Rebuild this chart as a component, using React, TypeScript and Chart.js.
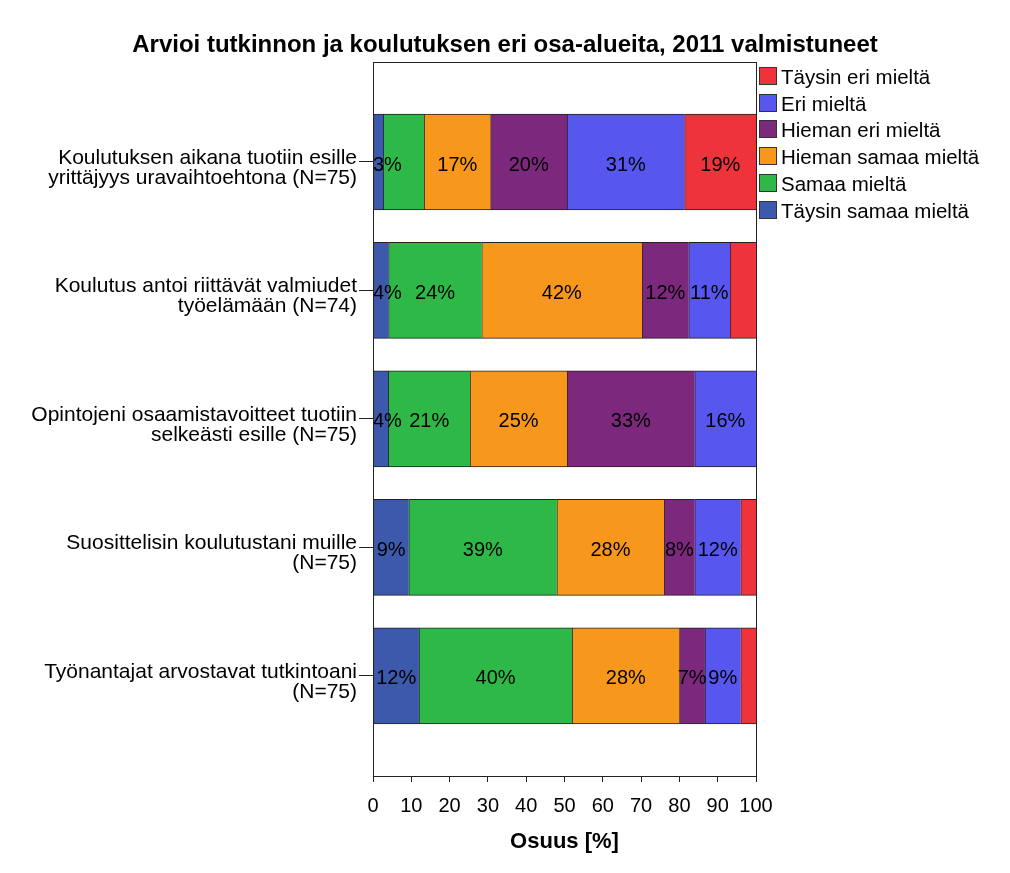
import React, { useEffect, useRef } from "react";
import { Chart, registerables } from "chart.js";

Chart.register(...registerables);

const title = "Arvioi tutkinnon ja koulutuksen eri osa-alueita, 2011 valmistuneet";
const xAxisTitle = "Osuus [%]";

const categories: string[][] = [
  ["Koulutuksen aikana tuotiin esille", "yrittäjyys uravaihtoehtona (N=75)"],
  ["Koulutus antoi riittävät valmiudet", "työelämään (N=74)"],
  ["Opintojeni osaamistavoitteet tuotiin", "selkeästi esille (N=75)"],
  ["Suosittelisin koulutustani muille", "(N=75)"],
  ["Työnantajat arvostavat tutkintoani", "(N=75)"],
];

const seriesNames = [
  "Täysin samaa mieltä",
  "Samaa mieltä",
  "Hieman samaa mieltä",
  "Hieman eri mieltä",
  "Eri mieltä",
  "Täysin eri mieltä",
];

const seriesColors = ["#3d59ab", "#2eb848", "#f7981d", "#7c287d", "#5757f0", "#ef333a"];

// percentages per category row
const taysinSamaa = [2.67, 4.05, 4.0, 9.33, 12.0];
const samaa = [10.67, 24.32, 21.33, 38.67, 40.0];
const hiemanSamaa = [17.33, 41.89, 25.33, 28.0, 28.0];
const hiemanEri = [20.0, 12.16, 33.33, 8.0, 6.67];
const eri = [30.67, 10.81, 16.0, 12.0, 9.33];
const taysinEri = [18.67, 6.76, 0.0, 4.0, 4.0];

const seriesValues = [taysinSamaa, samaa, hiemanSamaa, hiemanEri, eri, taysinEri];

const xTicks = [0, 10, 20, 30, 40, 50, 60, 70, 80, 90, 100];

const FONT = '"Liberation Sans", Arial, Helvetica, sans-serif';
const LINE = "#222222";

const labelPlugin = {
  id: "segLabels",
  afterDatasetsDraw(chart: any) {
    const { ctx, chartArea } = chart;
    ctx.save();
    ctx.font = `20px ${FONT}`;
    ctx.fillStyle = "#000";
    ctx.textBaseline = "middle";
    ctx.textAlign = "left";
    categories.forEach((_, row) => {
      let prevRight = -Infinity;
      chart.data.datasets.forEach((ds: any, di: number) => {
        const meta = chart.getDatasetMeta(di);
        const el: any = meta.data[row];
        const v = ds.data[row].x;
        if (!el || v < 0.5) return;
        const left = Math.min(el.base, el.x);
        const right = Math.max(el.base, el.x);
        const text = `${Math.round(v)}%`;
        const w = ctx.measureText(text).width;
        let lx = (left + right) / 2 - w / 2;
        if (lx < chartArea.left) lx = chartArea.left;
        if (lx + w > chartArea.right) lx = chartArea.right - w;
        if (lx < prevRight) return;
        ctx.fillText(text, lx, el.y + 3);
        prevRight = lx + w;
      });
    });
    // plot frame
    ctx.strokeStyle = LINE;
    ctx.lineWidth = 1;
    ctx.strokeRect(
      Math.round(chartArea.left) + 0.5,
      Math.round(chartArea.top) + 0.5,
      Math.round(chartArea.right) - Math.round(chartArea.left),
      Math.round(chartArea.bottom) - Math.round(chartArea.top)
    );
    // legend
    const lx0 = Math.round(chartArea.right) + 3;
    const ly0 = Math.round(chartArea.top) + 5;
    ctx.font = `20.5px ${FONT}`;
    const order = [5, 4, 3, 2, 1, 0];
    order.forEach((si, i) => {
      const y = Math.round(ly0 + i * 26.7);
      ctx.fillStyle = seriesColors[si];
      ctx.fillRect(lx0, y, 18, 18);
      ctx.strokeStyle = "#333";
      ctx.strokeRect(lx0 + 0.5, y + 0.5, 17, 17);
      ctx.fillStyle = "#000";
      ctx.fillText(seriesNames[si], lx0 + 22, y + 11);
    });
    ctx.restore();
  },
};

export default function App() {
  const ref = useRef<HTMLCanvasElement>(null);
  useEffect(() => {
    if (!ref.current) return;
    Chart.defaults.font.family = FONT;
    const chart = new Chart(ref.current, {
      type: "bar",
      data: {
        datasets: seriesNames.map((name, si) => ({
          label: name,
          data: seriesValues[si].map((v, i) => ({ x: v, y: i })),
          backgroundColor: seriesColors[si],
          borderColor: LINE,
          borderWidth: { top: 1, bottom: 1, left: 1, right: 0 },
          borderSkipped: false,
          barThickness: 96,
        })),
      },
      options: {
        indexAxis: "y",
        responsive: false,
        animation: false,
        events: [],
        layout: { padding: 0 },
        plugins: {
          legend: { display: false },
          tooltip: { enabled: false },
          title: {
            display: true,
            text: title,
            color: "#000",
            font: { size: 24, weight: "bold", family: FONT },
            padding: { top: 31, bottom: 2 },
          },
        },
        scales: {
          x: {
            type: "linear",
            stacked: true,
            min: 0,
            max: 100,
            offset: false,
            afterBuildTicks: (s: any) => {
              s.ticks = xTicks.map((v) => ({ value: v }));
            },
            afterFit: (s: any) => {
              s.height = 97;
            },
            ticks: {
              color: "#000",
              font: { size: 20 },
              padding: 12,
              maxRotation: 0,
              autoSkip: false,
            },
            grid: { offset: false, drawOnChartArea: false, drawTicks: true, tickLength: 6, color: LINE },
            border: { display: false },
            title: {
              display: true,
              text: xAxisTitle,
              color: "#000",
              font: { size: 22, weight: "bold" },
              padding: { top: 0, bottom: 18 },
            },
          },
          y: {
            type: "linear",
            stacked: true,
            reverse: true,
            offset: false,
            min: -0.78,
            max: 4.78,
            afterBuildTicks: (s: any) => {
              s.ticks = categories.map((_, i) => ({ value: i }));
            },
            afterFit: (s: any) => {
              s.width = 373;
            },
            ticks: {
              color: "#000",
              font: { size: 21, lineHeight: 0.96 },
              padding: 2,
              labelOffset: 6,
              autoSkip: false,
              callback: (v: any) => categories[Math.round(Number(v))] ?? "",
            },
            grid: { offset: false, drawOnChartArea: false, drawTicks: true, tickLength: 14, color: LINE },
            border: { display: false },
          },
          pad: {
            type: "linear",
            position: "right",
            display: true,
            grid: { display: false },
            border: { display: false },
            ticks: { display: false },
            afterFit: (s: any) => {
              s.width = 254;
            },
          },
        },
      } as any,
      plugins: [labelPlugin],
    });
    return () => chart.destroy();
  }, []);
  return (
    <div style={{ position: "absolute", left: 0, top: 0, width: 1010, height: 873, background: "#fff" }}>
      <canvas ref={ref} width={1010} height={873} />
    </div>
  );
}
